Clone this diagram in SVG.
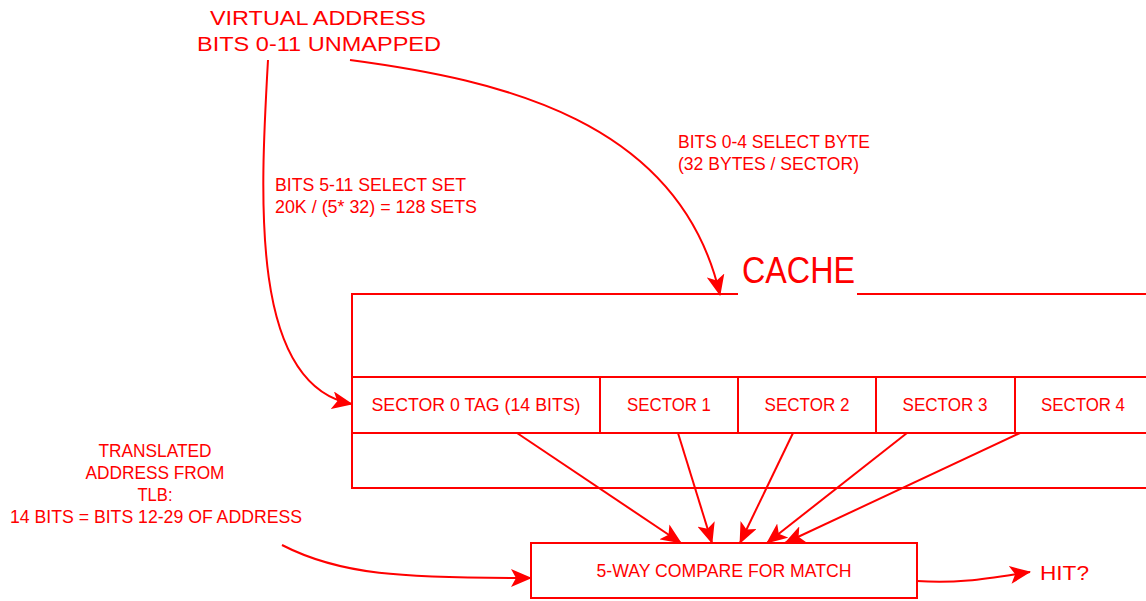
<svg xmlns="http://www.w3.org/2000/svg" width="1146" height="601" viewBox="0 0 1146 601">
<style>
text{font-family:"Liberation Sans",Arial,sans-serif;fill:#ff0000}
.s{font-size:18px}
.b{fill:none;stroke:#ff0000;stroke-width:2}
.c{fill:none;stroke:#ff0000;stroke-width:2}
</style>
<defs>
<marker id="ah" markerUnits="userSpaceOnUse" markerWidth="22" markerHeight="18" viewBox="0 0 22 18" refX="20" refY="9" orient="auto">
<path d="M0,0 L21,9 L0,18 L5,9 Z" fill="#ff0000"/>
</marker>
</defs>
<rect width="1146" height="601" fill="#fff"/>
<g id="label-va">
<text x="318" y="25" font-size="20" text-anchor="middle" textLength="216" lengthAdjust="spacingAndGlyphs">VIRTUAL ADDRESS</text>
<text x="319" y="51" font-size="20" text-anchor="middle" textLength="244" lengthAdjust="spacingAndGlyphs">BITS 0-11 UNMAPPED</text>
</g>
<g id="label-byte">
<text class="s" x="678" y="148" textLength="192" lengthAdjust="spacingAndGlyphs">BITS 0-4 SELECT BYTE</text>
<text class="s" x="678" y="170" textLength="181" lengthAdjust="spacingAndGlyphs">(32 BYTES / SECTOR)</text>
</g>
<g id="label-set">
<text class="s" x="275" y="191" textLength="191" lengthAdjust="spacingAndGlyphs">BITS 5-11 SELECT SET</text>
<text class="s" x="275" y="213" textLength="202" lengthAdjust="spacingAndGlyphs">20K / (5* 32) = 128 SETS</text>
</g>
<g id="cache">
<rect class="b" x="352" y="294" width="800" height="194"/>
<rect x="738" y="290" width="119" height="8" fill="#fff"/>
<text x="742" y="283" font-size="37" textLength="113" lengthAdjust="spacingAndGlyphs">CACHE</text>
</g>
<g id="sector0">
<rect class="b" x="352" y="377" width="248" height="56"/>
<text class="s" x="476" y="411" text-anchor="middle" textLength="209" lengthAdjust="spacingAndGlyphs">SECTOR 0 TAG (14 BITS)</text>
</g>
<g id="sector1">
<rect class="b" x="600" y="377" width="138" height="56"/>
<text class="s" x="669" y="411" text-anchor="middle" textLength="84" lengthAdjust="spacingAndGlyphs">SECTOR 1</text>
</g>
<g id="sector2">
<rect class="b" x="738" y="377" width="138" height="56"/>
<text class="s" x="807" y="411" text-anchor="middle" textLength="85" lengthAdjust="spacingAndGlyphs">SECTOR 2</text>
</g>
<g id="sector3">
<rect class="b" x="876" y="377" width="139" height="56"/>
<text class="s" x="945" y="411" text-anchor="middle" textLength="85" lengthAdjust="spacingAndGlyphs">SECTOR 3</text>
</g>
<g id="sector4">
<rect class="b" x="1015" y="377" width="140" height="56"/>
<text class="s" x="1083" y="411" text-anchor="middle" textLength="84" lengthAdjust="spacingAndGlyphs">SECTOR 4</text>
</g>
<g id="label-tlb">
<text class="s" x="155" y="457" text-anchor="middle" textLength="113" lengthAdjust="spacingAndGlyphs">TRANSLATED</text>
<text class="s" x="155" y="479" text-anchor="middle" textLength="139" lengthAdjust="spacingAndGlyphs">ADDRESS FROM</text>
<text class="s" x="155" y="501" text-anchor="middle" textLength="35" lengthAdjust="spacingAndGlyphs">TLB:</text>
<text class="s" x="156" y="523" text-anchor="middle" textLength="292" lengthAdjust="spacingAndGlyphs">14 BITS = BITS 12-29 OF ADDRESS</text>
</g>
<g id="compare">
<rect class="b" x="531" y="543" width="386" height="55"/>
<text class="s" x="724" y="577" text-anchor="middle" textLength="255" lengthAdjust="spacingAndGlyphs">5-WAY COMPARE FOR MATCH</text>
</g>
<g id="hit">
<text x="1040" y="580" font-size="20" textLength="49" lengthAdjust="spacingAndGlyphs">HIT?</text>
</g>
<g id="connectors">
<path class="c" d="M268,60 C260,200 250,385 352,404" marker-end="url(#ah)"/>
<path class="c" d="M350,60 C500,80 680,120 720,295" marker-end="url(#ah)"/>
<path class="c" d="M517,433 L681,543" marker-end="url(#ah)"/>
<path class="c" d="M678,433 L712,543" marker-end="url(#ah)"/>
<path class="c" d="M793,433 L740,543" marker-end="url(#ah)"/>
<path class="c" d="M907,433 L767,543" marker-end="url(#ah)"/>
<path class="c" d="M1020,433 L785,543" marker-end="url(#ah)"/>
<path class="c" d="M282,545 C340,575 400,578 531,578" marker-end="url(#ah)"/>
<path class="c" d="M917,581 C960,584 990,578 1030,572" marker-end="url(#ah)"/>
</g>
</svg>
